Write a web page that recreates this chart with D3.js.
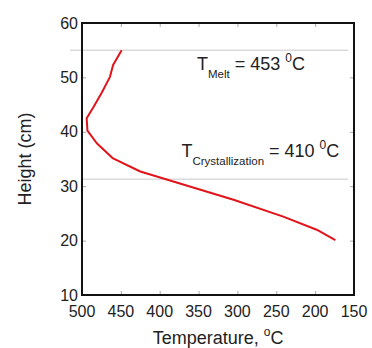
<!DOCTYPE html>
<html>
<head>
<meta charset="utf-8">
<script src="https://cdn.jsdelivr.net/npm/d3@7"></script>
<style>
  body { margin: 0; background: #fff; }
  text { font-family: "Liberation Sans", Arial, sans-serif; fill: #222; }
</style>
</head>
<body>
<div id="chart"></div>
<script>
// size of the picture
var w = 372;
var h = 348;
var margin = { left: 82, right: 18, top: 23, bottom: 53 };

// temperature profile
var temperature = [449, 460, 464, 475, 485, 494, 493, 481, 460, 425, 374, 305, 241, 198, 174];
var height = [55, 52.3, 50.1, 47.1, 44.6, 42.5, 40.2, 37.9, 35.1, 32.7, 30.5, 27.5, 24.4, 22, 20.1];

// reference heights (melt line and crystallization line)
var refHeights = [55, 31.3];

// tick values
var xTicks = [500, 450, 400, 350, 300, 250, 200, 150];
var yTicks = [10, 20, 30, 40, 50, 60];

var dataset = temperature.map(function(t, i) { return { t: t, y: height[i] }; });

var svg = d3.select("#chart").append("svg")
  .attr("width", w)
  .attr("height", h);

// x axis goes from 500 on the left down to 150
var xScale = d3.scaleLinear()
  .domain([500, 150])
  .range([margin.left, w - margin.right]);

var yScale = d3.scaleLinear()
  .domain([10, 60])
  .range([h - margin.bottom, margin.top]);

var x0 = xScale.range()[0], x1 = xScale.range()[1];
var y0 = yScale.range()[0], y1 = yScale.range()[1];

// reference lines
svg.selectAll(".ref")
  .data(refHeights)
  .enter()
  .append("line")
  .attr("class", "ref")
  .attr("x1", function(d, i) { return i == 0 ? x0 - 12 : x0; })
  .attr("x2", x1 - 6)
  .attr("y1", function(d) { return yScale(d); })
  .attr("y2", function(d) { return yScale(d); })
  .attr("stroke", "#c8c8c8")
  .attr("stroke-width", 1);

// inner ticks on all four sides
var tickLen = 4;
function ticks(g, axis) {
  g.call(axis);
  g.select(".domain").remove();
  g.selectAll(".tick line").attr("stroke", "#aaa");
}

svg.append("g")
  .attr("transform", "translate(0," + y0 + ")")
  .call(ticks, d3.axisTop(xScale).tickValues(xTicks.slice(1, -1)).tickSize(tickLen).tickFormat(""));
svg.append("g")
  .attr("transform", "translate(0," + y1 + ")")
  .call(ticks, d3.axisBottom(xScale).tickValues(xTicks.slice(1, -1)).tickSize(tickLen).tickFormat(""));
svg.append("g")
  .attr("transform", "translate(" + x0 + ",0)")
  .call(ticks, d3.axisRight(yScale).tickValues(yTicks.slice(1, -1)).tickSize(tickLen).tickFormat(""));
svg.append("g")
  .attr("transform", "translate(" + x1 + ",0)")
  .call(ticks, d3.axisLeft(yScale).tickValues(yTicks.slice(1, -1)).tickSize(tickLen).tickFormat(""));

// tick labels
svg.selectAll(".xlab")
  .data(xTicks)
  .enter()
  .append("text")
  .attr("class", "xlab")
  .attr("x", function(d) { return xScale(d); })
  .attr("y", y0 + 22)
  .attr("text-anchor", "middle")
  .attr("font-size", "16px")
  .text(function(d) { return d; });

svg.selectAll(".ylab")
  .data(yTicks)
  .enter()
  .append("text")
  .attr("class", "ylab")
  .attr("x", x0 - 4)
  .attr("y", function(d) { return yScale(d); })
  .attr("dy", "0.35em")
  .attr("text-anchor", "end")
  .attr("font-size", "16px")
  .text(function(d) { return d; });

// the frame
svg.append("rect")
  .attr("x", x0)
  .attr("y", y1)
  .attr("width", x1 - x0)
  .attr("height", y0 - y1)
  .attr("fill", "none")
  .attr("stroke", "#111")
  .attr("stroke-width", 2);

// the temperature curve
var line = d3.line()
  .x(function(d) { return xScale(d.t); })
  .y(function(d) { return yScale(d.y); });

svg.append("path")
  .datum(dataset)
  .attr("fill", "none")
  .attr("stroke", "#e0141a")
  .attr("stroke-width", 2)
  .attr("stroke-linejoin", "round")
  .attr("d", line);

// annotations
function label(x, y, main, sub, value) {
  var t = svg.append("text")
    .attr("x", x)
    .attr("y", y)
    .attr("font-size", "18px");
  t.append("tspan").text(main);
  t.append("tspan").attr("font-size", "11.5px").attr("dy", 8).text(sub);
  t.append("tspan").attr("dy", -8).text(" = " + value + " ");
  t.append("tspan").attr("font-size", "12px").attr("dy", -8).text("0");
  t.append("tspan").attr("dy", 8).text("C");
}
label(xScale(352), yScale(51.3), "T", "Melt", "453");
label(xScale(372), yScale(35.4), "T", "Crystallization", "410");

// axis titles
var xTitle = svg.append("text")
  .attr("x", (x0 + x1) / 2)
  .attr("y", h - 4)
  .attr("text-anchor", "middle")
  .attr("font-size", "18px");
xTitle.append("tspan").text("Temperature, ");
xTitle.append("tspan").attr("font-size", "12px").attr("dy", -8).text("o");
xTitle.append("tspan").attr("dy", 8).text("C");

svg.append("text")
  .attr("transform", "rotate(-90)")
  .attr("x", -(y0 + y1) / 2)
  .attr("y", 31)
  .attr("text-anchor", "middle")
  .attr("font-size", "18px")
  .text("Height (cm)");
</script>
</body>
</html>
